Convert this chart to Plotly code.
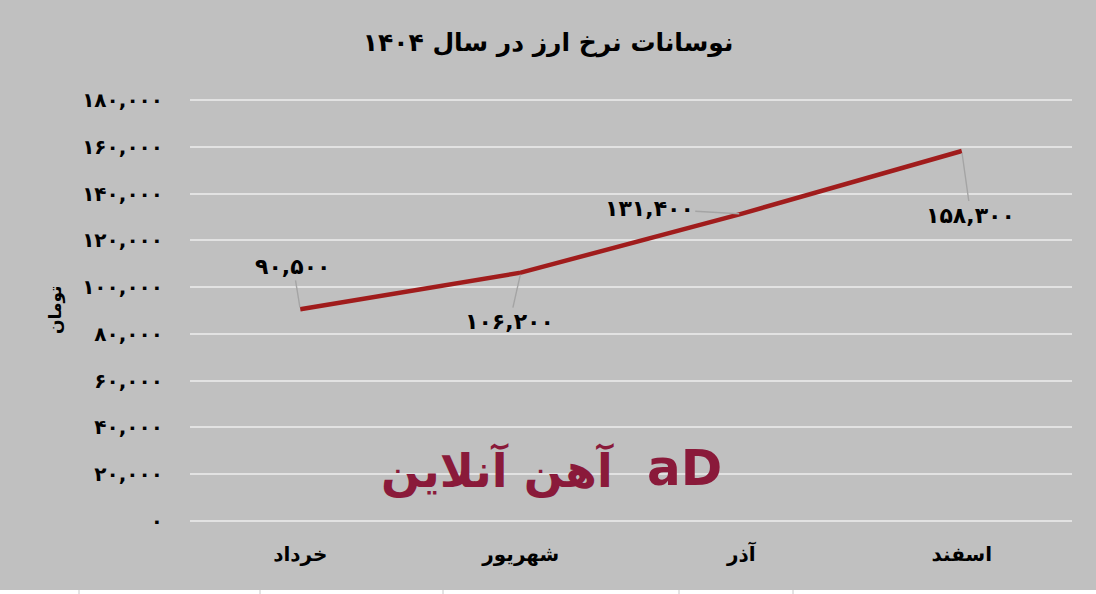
import plotly.graph_objects as go

# ---- data ----
months = ["خرداد", "شهریور", "آذر", "اسفند"]
rates = [90500, 106200, 131400, 158300]
rate_labels = ["۹۰,۵۰۰", "۱۰۶,۲۰۰", "۱۳۱,۴۰۰", "۱۵۸,۳۰۰"]
tick_values = [0, 20000, 40000, 60000, 80000, 100000, 120000, 140000, 160000, 180000]
tick_labels = ["۰", "۲۰,۰۰۰", "۴۰,۰۰۰", "۶۰,۰۰۰", "۸۰,۰۰۰", "۱۰۰,۰۰۰",
               "۱۲۰,۰۰۰", "۱۴۰,۰۰۰", "۱۶۰,۰۰۰", "۱۸۰,۰۰۰"]
title_text = "نوسانات نرخ ارز در سال ۱۴۰۴"
y_title = "تومان"

# label offsets (pixels) relative to each point
label_dx = [-7, -11, -92, 9]
label_dy = [-43, 49, -5, 64]

FONT = "DejaVu Sans"
BG = "#c0c0c0"

W, H = 1096, 594
L, R, T, B = 190, 24, 98, 71

fig = go.Figure()
fig.add_trace(go.Scatter(
    x=months, y=rates, mode="lines",
    line=dict(color="#a01c1c", width=4.5),
    hoverinfo="skip", showlegend=False,
))

annotations = []
for m, v, t, dx, dy in zip(months, rates, rate_labels, label_dx, label_dy):
    annotations.append(dict(
        x=m, y=v, xref="x", yref="y", text="<b>" + t + "</b>",
        showarrow=True, ax=dx, ay=dy, arrowhead=0, arrowwidth=1.4,
        arrowcolor="#a4a4a4", standoff=2, startstandoff=0,
        font=dict(family=FONT, size=22, color="#000000"),
    ))

paper_notes = [
    dict(x=55, y=310, text="<b>" + y_title + "</b>", textangle=-90,
         font=dict(family=FONT, size=17, color="#000000")),
    dict(x=497, y=470, text="<b>آهن آنلاین</b>",
         font=dict(family=FONT, size=46, color="#8a1a3a")),
    dict(x=684, y=468, text="<b>aD</b>",
         font=dict(family=FONT, size=50, color="#8a1a3a")),
]
for a in paper_notes:
    px, py = a["x"], a["y"]
    a.update(xref="paper", yref="paper", showarrow=False,
             x=(px - L) / (W - L - R), y=1 - (py - T) / (H - T - B),
             xanchor="center", yanchor="middle")
    annotations.append(a)

ph = H - T - B
pw = W - L - R
shapes = [
    dict(type="rect", xref="paper", yref="paper",
         x0=-L / pw, x1=1 + R / pw,
         y0=-B / ph, y1=-(B - 4) / ph,
         fillcolor="#ffffff", line=dict(width=0), layer="above"),
]
for sx in [79, 260, 443, 679, 793]:
    fx = (sx - L) / pw
    shapes.append(dict(type="line", xref="paper", yref="paper",
                       x0=fx, x1=fx, y0=-B / ph, y1=-(B - 4) / ph,
                       line=dict(color="#c8c8c8", width=1), layer="above"))

fig.update_layout(
    width=W, height=H,
    margin=dict(l=L, r=R, t=T, b=B),
    paper_bgcolor=BG, plot_bgcolor=BG,
    title=dict(text="<b>" + title_text + "</b>", x=0.5, xanchor="center",
               y=1 - 42 / H, yanchor="middle",
               font=dict(family=FONT, size=25, color="#000000")),
    xaxis=dict(range=[-0.5, 3.5], showgrid=False, zeroline=False, showline=False,
               ticks="", tickfont=dict(family=FONT, size=20, color="#000000"),
               ticklabelstandoff=17,
               tickvals=months, ticktext=["<b>" + m + "</b>" for m in months]),
    yaxis=dict(range=[-1000, 181000], tickvals=tick_values,
               ticktext=["<b>" + t + "</b>" for t in tick_labels],
               showgrid=True, gridcolor="#e2e2e2", gridwidth=2,
               zeroline=False, showline=False, ticks="",
               ticklabelstandoff=26,
               tickfont=dict(family=FONT, size=20, color="#000000")),
    annotations=annotations,
    shapes=shapes,
)

fig.write_html("out.html", config={"displayModeBar": False},
               post_script="document.body.style.margin='0';document.body.style.padding='0';")
